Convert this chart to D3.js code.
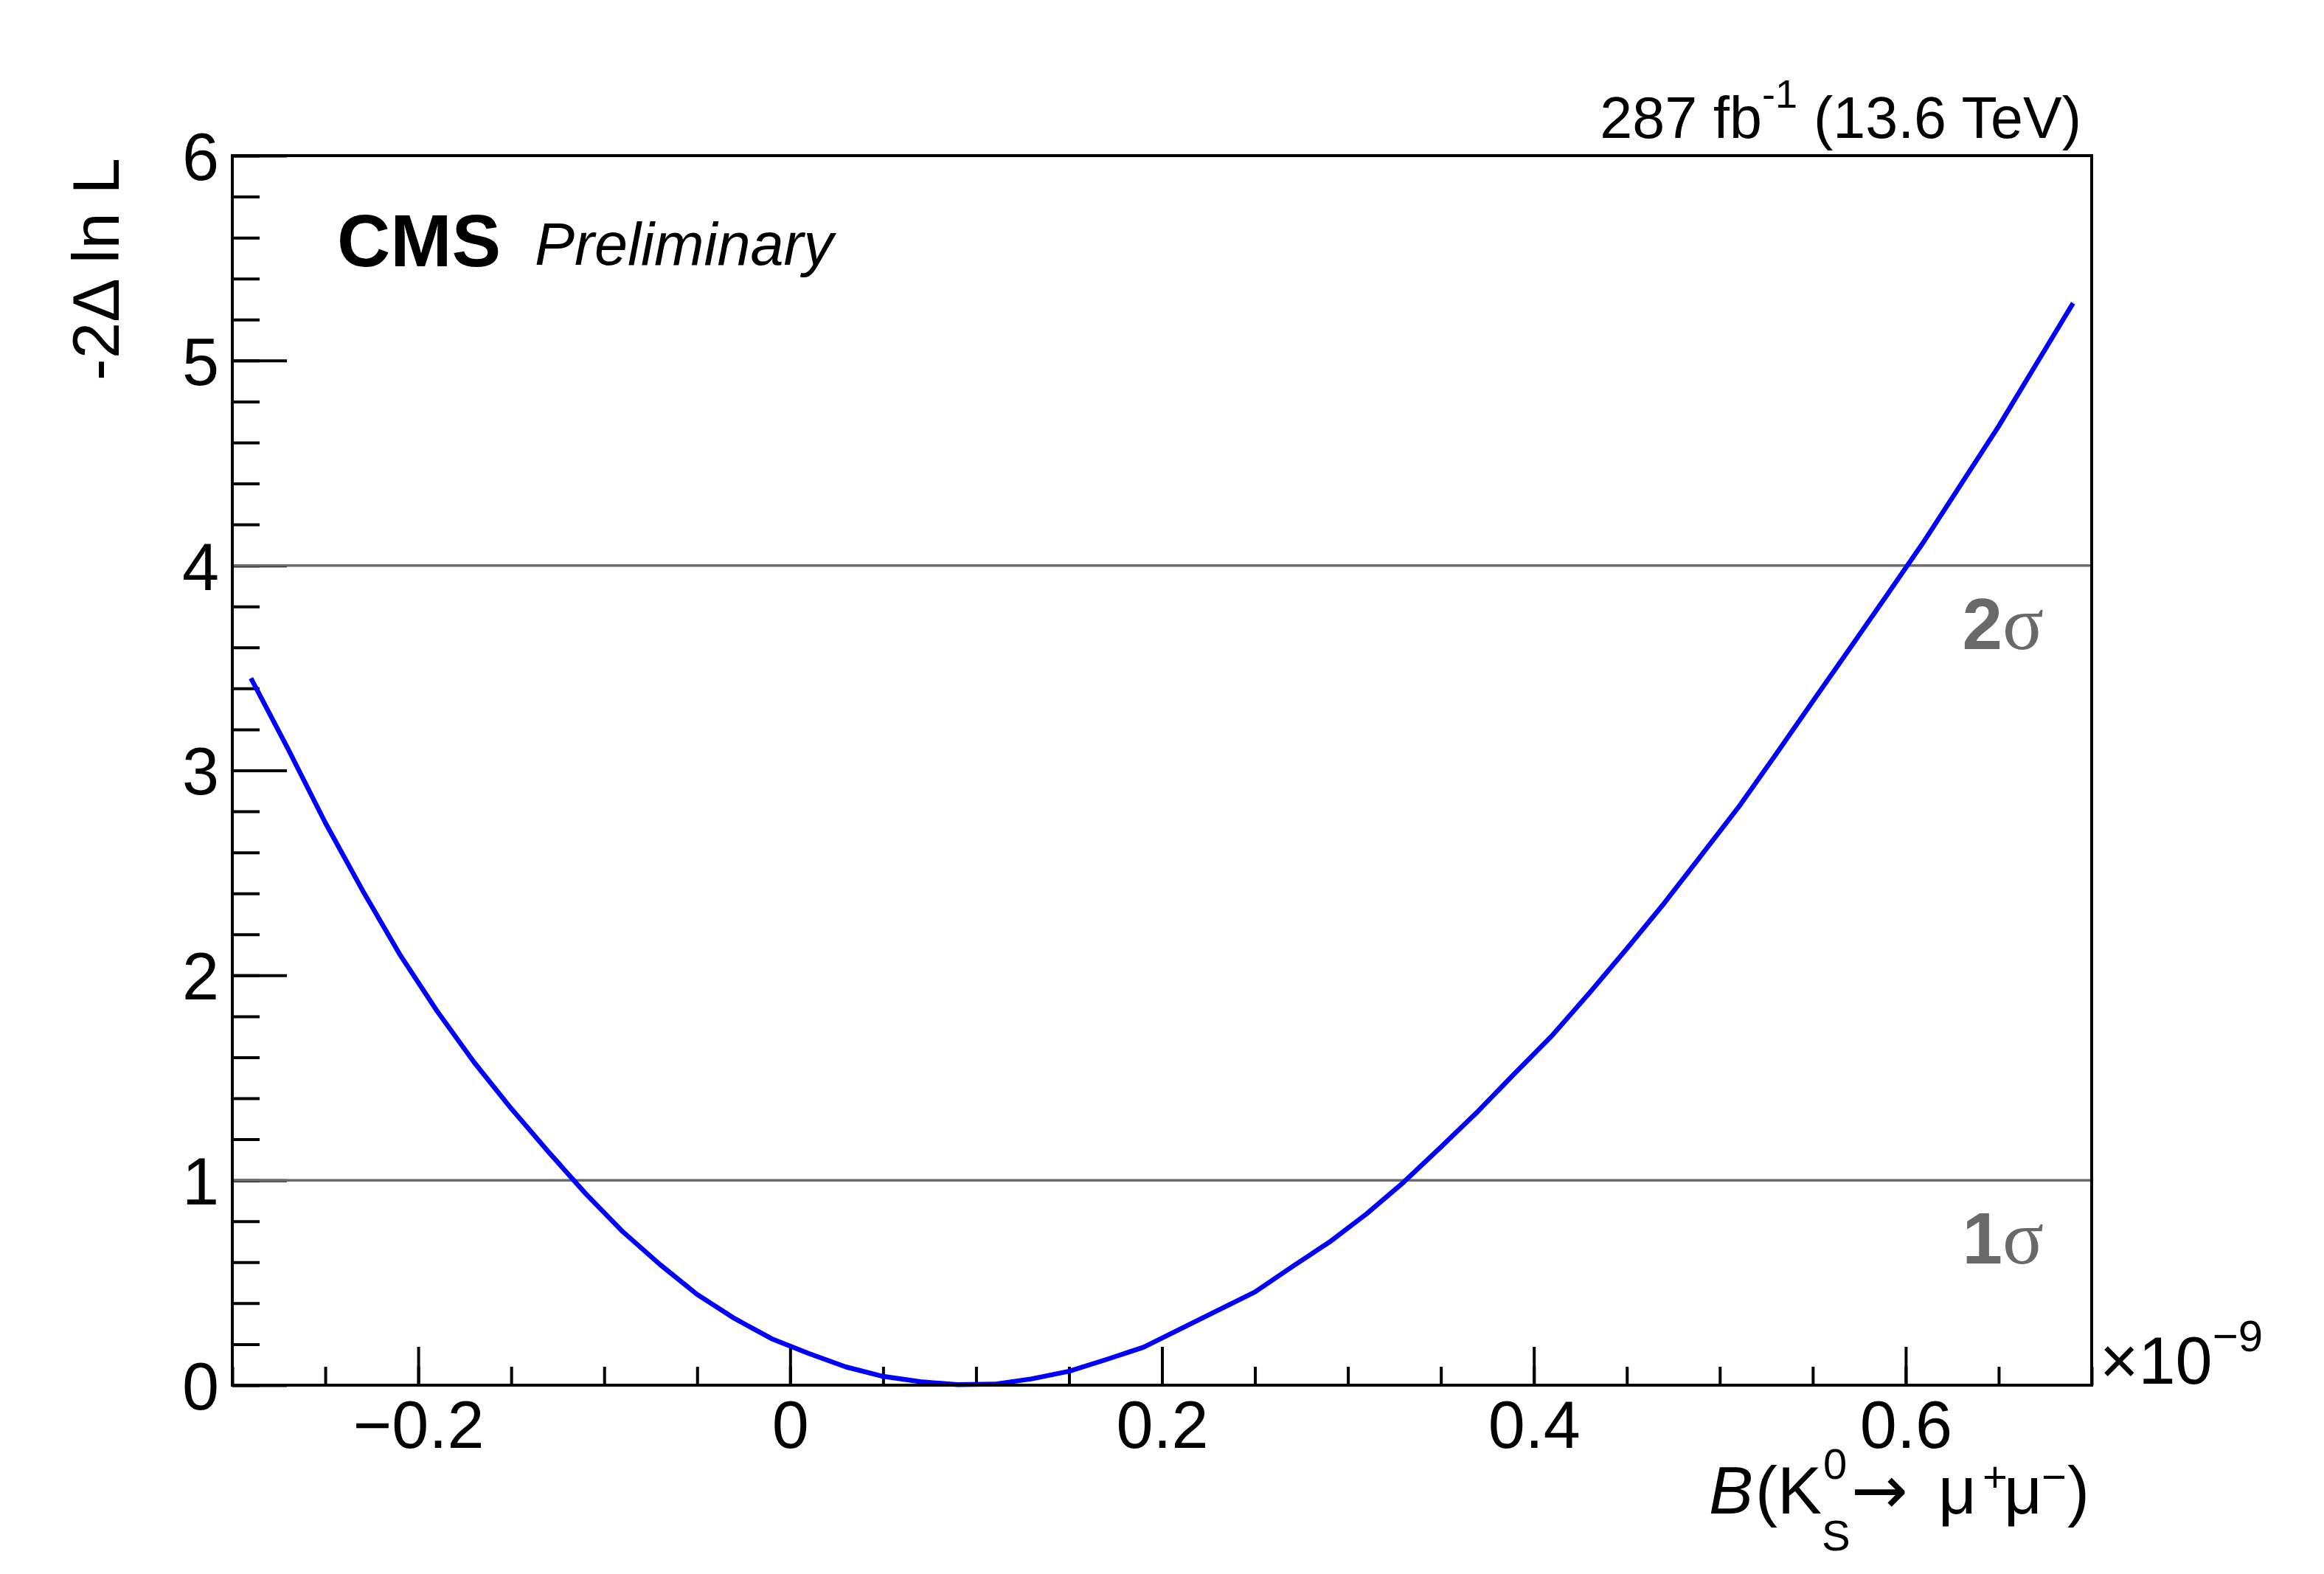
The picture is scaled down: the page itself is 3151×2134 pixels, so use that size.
<!DOCTYPE html>
<html lang="en">
<head>
    <meta charset="UTF-8">
    <title>CMS likelihood scan with d3 and SVG</title>
    <script src="https://d3js.org/d3.v7.min.js" charset="utf-8"></script>
    <style>
        body {
            margin: 0;
            background: white;
        }
        svg {
            display: block;
            background: white;
            font-family: 'Liberation Sans', Arial, Helvetica, sans-serif;
        }
        .tick line {
            stroke: black;
            stroke-width: 4;
        }
    </style>
</head>
<body>
    <div id="scan_chart"></div>
    <script>
        // scan points: branching fraction (x10^-9) and -2 delta ln L
        var scanX = [-0.29, -0.27, -0.25, -0.23, -0.21, -0.19, -0.17, -0.15, -0.13, -0.11,
                     -0.09, -0.07, -0.05, -0.03, -0.01, 0.01, 0.03, 0.05, 0.07, 0.09,
                     0.11, 0.13, 0.15, 0.17, 0.19, 0.25, 0.27, 0.29, 0.31, 0.33,
                     0.35, 0.37, 0.39, 0.41, 0.43, 0.45, 0.47, 0.49, 0.51, 0.53,
                     0.55, 0.57, 0.59, 0.61, 0.63, 0.65, 0.67, 0.69];
        var scanY = [3.45, 3.104, 2.745, 2.415, 2.103, 1.827, 1.576, 1.350, 1.139, 0.935,
                     0.749, 0.589, 0.443, 0.326, 0.227, 0.155, 0.089, 0.043, 0.017, 0.003,
                     0.005, 0.031, 0.068, 0.125, 0.185, 0.455, 0.578, 0.698, 0.836, 0.991,
                     1.162, 1.337, 1.524, 1.708, 1.915, 2.130, 2.351, 2.585, 2.82, 3.076,
                     3.337, 3.596, 3.857, 4.12, 4.40, 4.68, 4.98, 5.28];

        // tick labels and reference lines
        var xMajorTicks = [-0.2, 0, 0.2, 0.4, 0.6];
        var yMajorTicks = [0, 1, 2, 3, 4, 5, 6];
        var sigmaLevels = [1, 4];
        var sigmaLabels = ['1', '2'];

        var svgwidth = 3151;
        var svgheight = 2134;
        var padLeft = 315, padRight = 2836, padTop = 211, padBottom = 1878;

        var svg = d3.select('#scan_chart')
                    .append('svg')
                    .attr('width', svgwidth)
                    .attr('height', svgheight);

        var x_scale = d3.scaleLinear()
                        .domain([-0.3, 0.7])
                        .range([padLeft, padRight]);

        var y_scale = d3.scaleLinear()
                        .domain([0, 6])
                        .range([padBottom, padTop]);

        // minor ticks first (x every 0.05, y every 0.2)
        var xMinor = d3.range(-6, 15).map(d => d * 0.05);
        var yMinor = d3.range(0, 31).map(d => d * 0.2);

        svg.append('g')
            .attr('transform', 'translate(0,' + padBottom + ')')
            .call(d3.axisBottom(x_scale).tickValues(xMinor).tickSize(-25).tickFormat(''))
            .call(g => g.select('.domain').remove());

        svg.append('g')
            .attr('transform', 'translate(' + padLeft + ',0)')
            .call(d3.axisLeft(y_scale).tickValues(yMinor).tickSize(-37).tickFormat(''))
            .call(g => g.select('.domain').remove());

        // major ticks with labels
        var x_axis = svg.append('g')
            .attr('transform', 'translate(0,' + padBottom + ')')
            .call(d3.axisBottom(x_scale)
                .tickValues(xMajorTicks)
                .tickSize(-52)
                .tickPadding(21)
                .tickFormat(d => d === 0 ? '0' : d3.format('.1f')(d)));
        x_axis.select('.domain').remove();
        x_axis.selectAll('text')
            .style('font-size', '90px')
            .style('font-family', 'Liberation Sans, Arial, sans-serif')
            .attr('fill', 'black');

        var y_axis = svg.append('g')
            .attr('transform', 'translate(' + padLeft + ',0)')
            .call(d3.axisLeft(y_scale)
                .tickValues(yMajorTicks)
                .tickSize(-74)
                .tickPadding(18)
                .tickFormat(d3.format('d')));
        y_axis.select('.domain').remove();
        y_axis.selectAll('text')
            .style('font-size', '90px')
            .style('font-family', 'Liberation Sans, Arial, sans-serif')
            .attr('dy', '0.36em')
            .attr('fill', 'black');

        // 1 sigma and 2 sigma lines
        svg.selectAll('.sigma')
            .data(sigmaLevels)
            .enter().append('line')
            .attr('class', 'sigma')
            .attr('x1', x_scale(-0.3))
            .attr('x2', x_scale(0.7))
            .attr('y1', d => y_scale(d))
            .attr('y2', d => y_scale(d))
            .attr('stroke', '#6b6b6b')
            .attr('stroke-width', 3.5);

        // scan curve
        var scanData = scanX.map((d, i) => ({x: d, y: scanY[i]}));
        var line = d3.line().x(d => x_scale(d.x)).y(d => y_scale(d.y));
        svg.append('path')
            .datum(scanData)
            .attr('d', line)
            .attr('fill', 'none')
            .attr('stroke', '#0000ff')
            .attr('stroke-width', 6.5)
            .attr('stroke-linejoin', 'round');

        // frame
        svg.append('rect')
            .attr('x', padLeft)
            .attr('y', padTop)
            .attr('width', padRight - padLeft)
            .attr('height', padBottom - padTop)
            .attr('fill', 'none')
            .attr('stroke', 'black')
            .attr('stroke-width', 4);

        // sigma labels
        svg.selectAll('.siglabel')
            .data(sigmaLevels)
            .enter().append('text')
            .attr('class', 'siglabel')
            .attr('x', 2771)
            .attr('y', d => y_scale(d) + 113)
            .attr('text-anchor', 'end')
            .attr('fill', '#696969')
            .style('font-size', '98px')
            .each(function(d, i) {
                var t = d3.select(this);
                t.append('tspan').style('font-weight', 'bold').text(sigmaLabels[i]);
                t.append('tspan').style('font-family', 'Liberation Serif, DejaVu Serif, serif').style('font-size', '104px').text('σ');
            });

        // CMS Preliminary
        svg.append('text')
            .attr('x', 457)
            .attr('y', 361)
            .style('font-size', '100px')
            .style('font-weight', 'bold')
            .text('CMS');
        svg.append('text')
            .attr('x', 725)
            .attr('y', 359)
            .style('font-size', '81px')
            .style('font-style', 'italic')
            .text('Preliminary');

        // luminosity label
        var lumi = svg.append('text')
            .attr('x', 2822)
            .attr('y', 187)
            .attr('text-anchor', 'end')
            .style('font-size', '79px');
        lumi.append('tspan').text('287 fb');
        lumi.append('tspan').attr('dy', -41).style('font-size', '54px').text('-1');
        lumi.append('tspan').attr('dy', 41).text('\u00a0(13.6 TeV)');

        // y axis title
        svg.append('text')
            .attr('transform', 'translate(161,214) rotate(-90)')
            .attr('text-anchor', 'end')
            .style('font-size', '89px')
            .text('-2\u0394 ln L');

        // exponent of the x axis
        var expo = svg.append('text')
            .attr('x', 2847)
            .attr('y', 1876)
            .style('font-size', '90px');
        expo.append('tspan').text('\u00d710');
        expo.append('tspan').attr('dy', -44).style('font-size', '60px').text('\u22129');

        // x axis title, pieces placed
        var xt = svg.append('text').style('font-size', '90px');
        xt.append('tspan').attr('x', 2317).attr('y', 2052).style('font-style', 'italic').text('B');
        xt.append('tspan').attr('x', 2380).attr('y', 2052).text('(K');
        xt.append('tspan').attr('x', 2472).attr('y', 2005).style('font-size', '58px').text('0');
        xt.append('tspan').attr('x', 2470).attr('y', 2102).style('font-size', '58px').text('S');
        xt.append('tspan').attr('x', 2510).attr('y', 2052).style('font-family', 'DejaVu Sans, sans-serif').style('font-size', '92px').text('\u2192');
        xt.append('tspan').attr('x', 2628).attr('y', 2052).text('\u03bc');
        xt.append('tspan').attr('x', 2688).attr('y', 2022).style('font-size', '58px').text('+');
        xt.append('tspan').attr('x', 2717).attr('y', 2052).text('\u03bc');
        xt.append('tspan').attr('x', 2768).attr('y', 2022).style('font-size', '58px').text('\u2212');
        xt.append('tspan').attr('x', 2803).attr('y', 2052).text(')');
    </script>
</body>
</html>
